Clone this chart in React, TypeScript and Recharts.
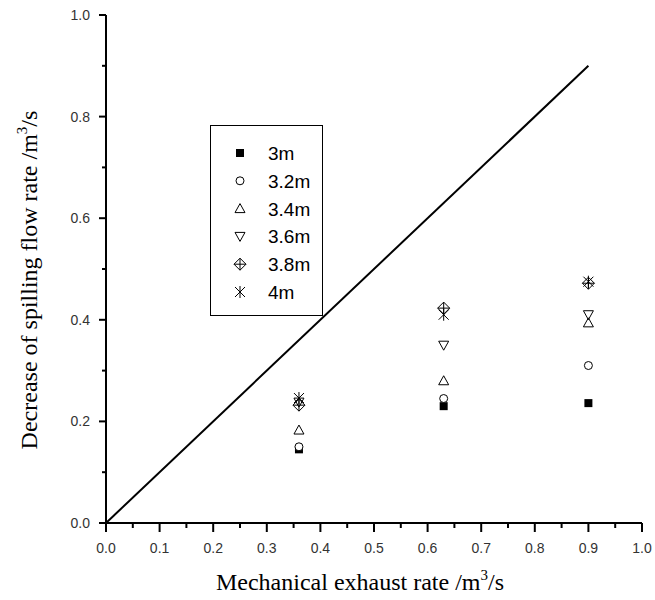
import React from 'react';
import { ScatterChart, Scatter, XAxis, YAxis, ReferenceLine, Label } from 'recharts';

// smoke layer heights (legend) and measured points
const heights = ['3m', '3.2m', '3.4m', '3.6m', '3.8m', '4m'];
const exhaustRates = [0.36, 0.63, 0.9];
const decrease3m = [0.145, 0.23, 0.236];
const decrease32m = [0.15, 0.245, 0.31];
const decrease34m = [0.183, 0.28, 0.394];
const decrease36m = [0.238, 0.35, 0.41];
const decrease38m = [0.232, 0.423, 0.472];
const decrease4m = [0.246, 0.41, 0.475];

const xTicks = [0, 0.05, 0.1, 0.15, 0.2, 0.25, 0.3, 0.35, 0.4, 0.45, 0.5, 0.55, 0.6, 0.65, 0.7, 0.75, 0.8, 0.85, 0.9, 0.95, 1.0];
const yTicks = [0, 0.1, 0.2, 0.3, 0.4, 0.5, 0.6, 0.7, 0.8, 0.9, 1.0];

type Kind = 'square' | 'circle' | 'up' | 'down' | 'diamond' | 'xbar';
const kinds: Kind[] = ['square', 'circle', 'up', 'down', 'diamond', 'xbar'];
const series = [decrease3m, decrease32m, decrease34m, decrease36m, decrease38m, decrease4m];

const toPoints = (vals: number[]) => exhaustRates.map((x, i) => ({ x, y: vals[i] }));

const drawMarker = (kind: Kind, cx: number, cy: number) => {
  const st = { stroke: '#000', strokeWidth: 1, fill: 'none' };
  switch (kind) {
    case 'square':
      return <rect x={cx - 4} y={cy - 4} width={8} height={8} fill="#000" />;
    case 'circle':
      return <circle cx={cx} cy={cy} r={4} {...st} fill="#fff" />;
    case 'up':
      return <polygon points={`${cx},${cy - 5} ${cx + 5},${cy + 4} ${cx - 5},${cy + 4}`} {...st} />;
    case 'down':
      return <polygon points={`${cx},${cy + 5} ${cx + 5},${cy - 4} ${cx - 5},${cy - 4}`} {...st} />;
    case 'diamond':
      return (
        <g {...st}>
          <polygon points={`${cx},${cy - 6} ${cx + 6},${cy} ${cx},${cy + 6} ${cx - 6},${cy}`} />
          <line x1={cx - 6} y1={cy} x2={cx + 6} y2={cy} />
          <line x1={cx} y1={cy - 6} x2={cx} y2={cy + 6} />
        </g>
      );
    default:
      return (
        <g {...st}>
          <line x1={cx - 5} y1={cy - 5} x2={cx + 5} y2={cy + 5} />
          <line x1={cx + 5} y1={cy - 5} x2={cx - 5} y2={cy + 5} />
          <line x1={cx} y1={cy - 6} x2={cx} y2={cy + 6} />
        </g>
      );
  }
};

const isMajor = (v: number, step: number) => Math.abs(Math.round(v / step) * step - v) < 1e-6;

const XTick = (props: any) => {
  const { x, y, payload } = props;
  const major = isMajor(payload.value, 0.1);
  return (
    <g>
      <line x1={x} x2={x} y1={y} y2={y + (major ? 9 : 5)} stroke="#000" strokeWidth={2} />
      {major && (
        <text x={x} y={y + 30} textAnchor="middle" fontSize={14} fill="#333" fontFamily="Arial, 'Liberation Sans', sans-serif">
          {payload.value.toFixed(1)}
        </text>
      )}
    </g>
  );
};

const YTick = (props: any) => {
  const { x, y, payload } = props;
  const major = isMajor(payload.value, 0.2);
  return (
    <g>
      <line x1={x} x2={x - (major ? 7 : 4)} y1={y} y2={y} stroke="#000" strokeWidth={2} />
      {major && (
        <text x={x - 16} y={y + 5} textAnchor="end" fontSize={14} fill="#333" fontFamily="Arial, 'Liberation Sans', sans-serif">
          {payload.value.toFixed(1)}
        </text>
      )}
    </g>
  );
};

// legend box drawn over the plot area
const LegendBox = () => (
  <svg width={113} height={191} style={{ position: 'absolute', left: 210, top: 125, display: 'block' }}>
    <rect x={0.5} y={0.5} width={112} height={190} fill="#fff" stroke="#000" strokeWidth={1} />
    {heights.map((h, i) => {
      const cy = 28 + i * 27.8;
      return (
        <g key={h}>
          {drawMarker(kinds[i], 30, cy)}
          <text x={58} y={cy + 7} fontSize={19} fill="#000" fontFamily="Arial, 'Liberation Sans', sans-serif">
            {h}
          </text>
        </g>
      );
    })}
  </svg>
);

const XTitle = (props: any) => {
  const { viewBox } = props;
  return (
    <text x={viewBox.x + viewBox.width / 2 - 14} y={590} textAnchor="middle" fontSize={24} fill="#000" fontFamily="'Times New Roman', 'Liberation Serif', serif">
      Mechanical exhaust rate /m<tspan dy={-10} fontSize={15}>3</tspan><tspan dy={10}>/s</tspan>
    </text>
  );
};

const YTitle = () => (
  <text transform="translate(37, 280) rotate(-90)" textAnchor="middle" fontSize={24} fill="#000" fontFamily="'Times New Roman', 'Liberation Serif', serif">
    Decrease of spilling flow rate /m<tspan dy={-10} fontSize={15}>3</tspan><tspan dy={10}>/s</tspan>
  </text>
);

export default function App() {
  return (
    <div style={{ position: 'absolute', left: 0, top: 0, width: 655, height: 600, background: '#fff' }}>
      <ScatterChart width={655} height={600} margin={{ top: 15, right: 13, left: 0, bottom: 0 }}>
        <XAxis
          type="number"
          dataKey="x"
          domain={[0, 1]}
          ticks={xTicks}
          interval={0}
          height={77}
          tickSize={0}
          tickMargin={0}
          tickLine={false}
          tick={<XTick />}
          axisLine={{ stroke: '#000', strokeWidth: 2 }}
        >
          <Label content={<XTitle />} />
        </XAxis>
        <YAxis
          type="number"
          dataKey="y"
          domain={[0, 1]}
          ticks={yTicks}
          interval={0}
          width={106}
          tickSize={0}
          tickMargin={0}
          tickLine={false}
          tick={<YTick />}
          axisLine={{ stroke: '#000', strokeWidth: 2 }}
        >
          <Label content={<YTitle />} />
        </YAxis>
        <ReferenceLine
          segment={[{ x: 0, y: 0 }, { x: 0.9, y: 0.9 }]}
          stroke="#000"
          strokeWidth={2}
          ifOverflow="visible"
        />
        {heights.map((h, i) => (
          <Scatter
            key={h}
            name={h}
            data={toPoints(series[i])}
            isAnimationActive={false}
            shape={(p: any) => drawMarker(kinds[i], p.cx, p.cy)}
          />
        ))}
      </ScatterChart>
      <LegendBox />
    </div>
  );
}
